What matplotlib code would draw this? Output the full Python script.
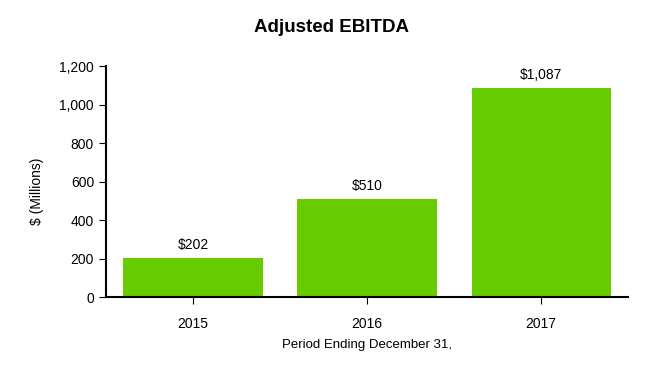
import matplotlib
matplotlib.use('Agg')
import matplotlib.pyplot as plt
from matplotlib.ticker import FuncFormatter

plt.rcParams['font.family'] = ['Liberation Sans', 'DejaVu Sans']

years = ['2015', '2016', '2017']
ebitda = [202, 510, 1087]
bar_labels = ['$202', '$510', '$1,087']

fig = plt.figure(figsize=(6.62, 3.8), dpi=100)
ax = fig.add_axes([0.160, 0.218, 0.789, 0.608])

x = range(len(years))
ax.bar(x, ebitda, width=0.8, color='#66CC00', zorder=2)
for xi, v, lab in zip(x, ebitda, bar_labels):
    ax.text(xi, v + 30, lab, ha='center', va='bottom', fontsize=10)

ax.set_xticks(list(x))
ax.set_xticklabels(years, fontsize=10)
ax.set_xlim(-0.5, 2.5)
ax.set_ylim(0, 1200)
ax.set_yticks(range(0, 1201, 200))
ax.yaxis.set_major_formatter(FuncFormatter(lambda v, p: f'{int(v):,}'))
ax.tick_params(axis='y', labelsize=10, length=5, width=0.8)
ax.tick_params(axis='x', length=5, width=0.8, pad=9)

for s in ['top', 'right']:
    ax.spines[s].set_visible(False)
ax.spines['left'].set_linewidth(1.5)
ax.spines['bottom'].set_linewidth(1.5)

ax.set_ylabel('$ (Millions)', fontsize=10, labelpad=9)
ax.yaxis.set_label_coords(-0.118, 0.46)
ax.set_xlabel('Period Ending December 31,', fontsize=9.5, labelpad=6)
fig.suptitle('Adjusted EBITDA', fontsize=13.5, fontweight='bold', y=0.95)

fig.savefig('out.png', dpi=100)
